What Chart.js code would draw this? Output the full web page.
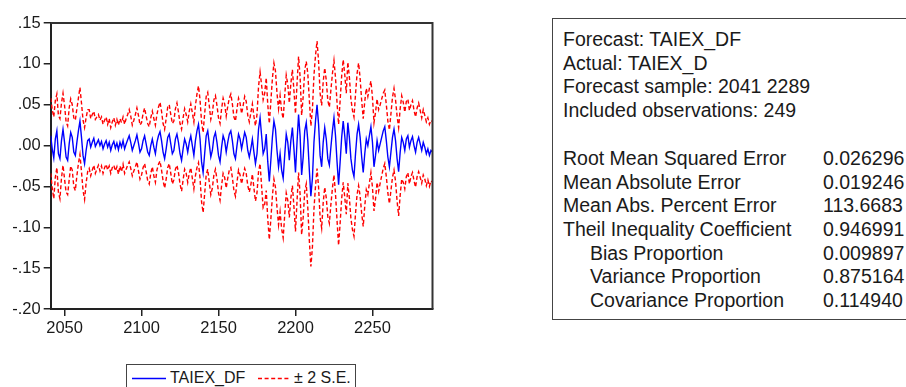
<!DOCTYPE html>
<html>
<head>
<meta charset="utf-8">
<script src="https://cdn.jsdelivr.net/npm/chart.js@4.4.1/dist/chart.umd.min.js"></script>
<style>
  html, body { margin: 0; padding: 0; background: #fff; width: 906px; height: 387px; overflow: hidden; }
  body { position: relative; font-family: "Liberation Sans", Arial, sans-serif; color: #1a1a1a; }
  #chartWrap { position: absolute; left: 0; top: 0; width: 445px; height: 345px; }
  #legend { position: absolute; left: 126px; top: 364px; width: 230px; height: 40px; border: 1px solid #444; box-sizing: border-box; }
  #legend span { position: absolute; top: 5px; font-size: 16px; line-height: 16px; white-space: nowrap; }
  #legend svg { position: absolute; left: 0; top: 0; }
  #stats { position: absolute; left: 552px; top: 18px; width: 400px; height: 302px; border: 1px solid #444; box-sizing: border-box; }
  #stats div { position: absolute; font-size: 19.5px; line-height: 19.5px; white-space: nowrap; }
</style>
</head>
<body>
<div id="chartWrap"><canvas id="fcChart"></canvas></div>
<div id="legend">
  <svg width="230" height="30">
    <line x1="5" y1="13.5" x2="39" y2="13.5" stroke="#0000ff" stroke-width="1.5"/>
    <line x1="131" y1="13.5" x2="164" y2="13.5" stroke="#ff0000" stroke-width="1.5" stroke-dasharray="4 2.6"/>
  </svg>
  <span id="lg1" style="left:43px"></span>
  <span id="lg2" style="left:167px"></span>
</div>
<div id="stats"></div>

<script>
// first observation of the forecast sample
const firstObs = 2041;

// TAIEX_DF forecast, 2041..2289
const forecast = [
  // 2041-2065
  0.012,-0.004,-0.015,0.008,0.018,-0.010,-0.016,0.006,0.020,0.004,
  -0.014,-0.018,0.002,0.016,0.010,-0.008,-0.012,0.004,0.018,0.030,
  0.010,-0.012,-0.022,-0.006,0.006,
  // 2066-2100
  0.008,-0.002,0.004,0.009,-0.001,0.003,0.007,0.000,0.005,-0.004,
  0.002,0.006,-0.002,0.004,-0.006,0.001,0.005,-0.003,0.003,-0.005,
  0.004,-0.002,0.006,-0.004,0.002,0.007,0.012,0.004,-0.006,0.000,
  0.006,0.013,0.003,-0.008,-0.004,
  // 2101-2140
  0.006,0.012,0.002,-0.008,-0.012,0.000,0.008,-0.002,-0.010,0.004,
  0.012,0.017,0.006,-0.008,-0.016,-0.004,0.010,0.014,0.002,-0.010,
  -0.006,0.008,0.014,0.004,-0.010,-0.018,-0.004,0.008,0.002,-0.008,
  0.004,0.012,0.000,-0.012,0.006,0.018,0.026,0.008,-0.020,-0.033,
  // 2141-2177
  -0.010,0.012,0.018,0.002,-0.014,-0.006,0.010,0.016,0.004,-0.012,
  -0.020,-0.002,0.012,0.006,-0.008,0.004,0.014,0.018,0.006,-0.010,
  -0.016,0.000,0.014,0.008,-0.004,0.006,0.016,0.010,-0.006,-0.014,
  -0.004,0.008,-0.008,-0.022,-0.010,0.020,0.034,
  // 2178-2230
  0.012,-0.010,-0.004,0.014,-0.020,-0.044,-0.018,0.010,0.030,0.020,
  -0.006,-0.026,-0.010,-0.030,-0.040,-0.012,0.014,0.004,-0.018,0.006,
  0.022,-0.004,-0.033,0.004,0.038,0.012,-0.036,-0.014,0.018,0.028,
  0.006,-0.030,-0.062,-0.040,0.004,0.030,0.050,0.026,-0.012,-0.026,
  0.004,0.022,0.008,-0.016,-0.024,-0.002,0.018,0.034,0.012,-0.020,
  -0.048,-0.020,0.010,
  // 2231-2289
  0.030,0.012,-0.010,0.028,0.010,-0.016,-0.030,-0.038,-0.010,0.014,
  0.026,0.010,-0.014,-0.033,-0.010,0.008,0.000,0.012,0.023,0.004,
  -0.026,-0.012,0.006,-0.006,0.002,0.010,0.018,0.023,0.006,-0.014,
  -0.026,-0.008,0.010,0.020,0.006,-0.016,-0.032,-0.008,0.010,0.004,
  -0.006,0.008,0.012,-0.002,0.006,0.011,0.000,-0.008,0.004,0.010,
  0.002,-0.006,0.004,-0.002,-0.010,-0.004,-0.012,-0.006,-0.008
];

// half width of the band (2 x S.E.), same observations
const twoSE = [
  0.046,0.048,0.050,0.047,0.045,0.047,0.049,0.046,0.044,0.045,
  0.043,0.042,0.044,0.041,0.040,0.042,0.043,0.041,0.040,0.041,
  0.042,0.043,0.044,0.040,0.038,
  0.036,0.035,0.034,0.033,0.033,0.032,0.031,0.031,0.030,0.030,
  0.029,0.029,0.028,0.029,0.028,0.028,0.029,0.028,0.029,0.030,
  0.029,0.030,0.029,0.030,0.031,0.031,0.032,0.032,0.031,0.031,
  0.032,0.033,0.034,0.033,0.032,
  0.033,0.034,0.034,0.035,0.035,0.034,0.034,0.035,0.035,0.034,
  0.035,0.036,0.036,0.035,0.036,0.037,0.037,0.036,0.036,0.037,
  0.036,0.037,0.038,0.037,0.037,0.038,0.038,0.037,0.036,0.037,
  0.038,0.039,0.040,0.041,0.043,0.045,0.047,0.048,0.049,0.049,
  0.049,0.048,0.047,0.047,0.046,0.046,0.046,0.045,0.045,0.046,
  0.047,0.047,0.046,0.045,0.044,0.044,0.044,0.045,0.045,0.045,
  0.046,0.045,0.044,0.044,0.043,0.043,0.044,0.044,0.043,0.043,
  0.044,0.043,0.044,0.046,0.048,0.052,0.056,
  0.062,0.066,0.068,0.069,0.070,0.071,0.072,0.072,0.071,0.071,
  0.070,0.071,0.071,0.072,0.073,0.073,0.072,0.071,0.070,0.070,
  0.071,0.071,0.072,0.072,0.071,0.072,0.073,0.074,0.074,0.075,
  0.082,0.086,0.086,0.084,0.082,0.080,0.078,0.077,0.076,0.075,
  0.074,0.073,0.072,0.071,0.071,0.070,0.070,0.070,0.071,0.072,
  0.074,0.075,0.075,
  0.075,0.075,0.074,0.074,0.074,0.073,0.073,0.073,0.073,0.074,
  0.075,0.072,0.069,0.066,0.064,0.062,0.060,0.058,0.056,0.055,
  0.054,0.053,0.051,0.050,0.048,0.047,0.046,0.045,0.044,0.044,
  0.045,0.047,0.049,0.050,0.050,0.052,0.054,0.053,0.051,0.049,
  0.047,0.046,0.045,0.045,0.044,0.044,0.043,0.043,0.042,0.042,
  0.041,0.040,0.040,0.039,0.039,0.038,0.038,0.037,0.037
];

const xTicks = [2050, 2100, 2150, 2200, 2250];
const yTicks = [0.15, 0.10, 0.05, 0.00, -0.05, -0.10, -0.15, -0.20];
const seriesNames = ['TAIEX_DF', '\u00b1 2 S.E.'];

const headerLines = [
  'Forecast: TAIEX_DF',
  'Actual: TAIEX_D',
  'Forecast sample: 2041 2289',
  'Included observations: 249'
];
const statLabels = [
  'Root Mean Squared Error',
  'Mean Absolute Error',
  'Mean Abs. Percent Error',
  'Theil Inequality Coefficient',
  'Bias Proportion',
  'Variance Proportion',
  'Covariance Proportion'
];
const statValues = ['0.026296', '0.019246', '113.6683', '0.946991', '0.009897', '0.875164', '0.114940'];
const statIndented = [false, false, false, false, true, true, true];

// ---- text panel ----
const stats = document.getElementById('stats');
const addLine = (txt, left, baseline) => {
  const d = document.createElement('div');
  d.textContent = txt;
  d.style.left = (left - 553) + 'px';
  d.style.top = (baseline - 16.5 - 19) + 'px';
  stats.appendChild(d);
};
headerLines.forEach((t, i) => addLine(t, 563, 46.5 + i * 23.7));
statLabels.forEach((t, i) => {
  const base = 165.5 + i * 23.65;
  addLine(t, statIndented[i] ? 590 : 563, base);
  addLine(statValues[i], 823, base);
});
document.getElementById('lg1').textContent = seriesNames[0];
document.getElementById('lg2').textContent = seriesNames[1];

// ---- chart ----
const pts = arr => arr.map((v, i) => ({ x: firstObs + i, y: v }));
const upper = forecast.map((v, i) => v + twoSE[i]);
const lower = forecast.map((v, i) => v - twoSE[i]);

const fmtY = v => {
  const s = (Math.round(v * 100) / 100).toFixed(2);
  if (s === '-0.00') return '.00';
  return s.replace('0.', '.');
};

const frame = {
  id: 'frame',
  afterDraw(chart) {
    const { ctx, chartArea: a } = chart;
    ctx.save();
    ctx.strokeStyle = '#333';
    ctx.lineWidth = 2;
    ctx.beginPath();
    ctx.moveTo(a.left, a.top);
    ctx.lineTo(a.right, a.top);
    ctx.lineTo(a.right, a.bottom);
    ctx.stroke();
    ctx.restore();
  }
};

new Chart(document.getElementById('fcChart'), {
  type: 'line',
  data: {
    datasets: [
      { label: seriesNames[0], data: pts(forecast), borderColor: '#0000ff', borderWidth: 1.4, pointRadius: 0, tension: 0 },
      { label: seriesNames[1], data: pts(upper), borderColor: '#ff0000', borderWidth: 1.4, borderDash: [4, 2.5], pointRadius: 0, tension: 0 },
      { label: '', data: pts(lower), borderColor: '#ff0000', borderWidth: 1.4, borderDash: [4, 2.5], pointRadius: 0, tension: 0 }
    ]
  },
  options: {
    responsive: true, maintainAspectRatio: false, animation: false,
    layout: { padding: { left: 0, right: 12.5, top: 23, bottom: 0 } },
    plugins: { legend: { display: false }, tooltip: { enabled: false } },
    scales: {
      x: {
        type: 'linear', min: firstObs, max: firstObs + forecast.length - 1,
        afterBuildTicks: s => { s.ticks = xTicks.map(v => ({ value: v })); },
        afterFit: s => { s.height = 36; },
        border: { display: true, color: '#222', width: 2 },
        grid: { drawOnChartArea: false, drawTicks: true, tickLength: 7, color: '#222', lineWidth: 1.5 },
        ticks: { color: '#1a1a1a', padding: 3, maxRotation: 0, callback: v => String(v), font: { family: 'Liberation Sans, Arial', size: 16.5 } }
      },
      y: {
        min: -0.2, max: 0.15,
        afterBuildTicks: s => { s.ticks = yTicks.map(v => ({ value: v })); },
        afterFit: s => { s.width = 50.7; },
        border: { display: true, color: '#222', width: 2 },
        grid: { drawOnChartArea: false, drawTicks: true, tickLength: 7, color: '#222', lineWidth: 1.5 },
        ticks: { color: '#1a1a1a', padding: 3, callback: v => fmtY(v), font: { family: 'Liberation Sans, Arial', size: 16.5 } }
      }
    }
  },
  plugins: [frame]
});
</script>
</body>
</html>
